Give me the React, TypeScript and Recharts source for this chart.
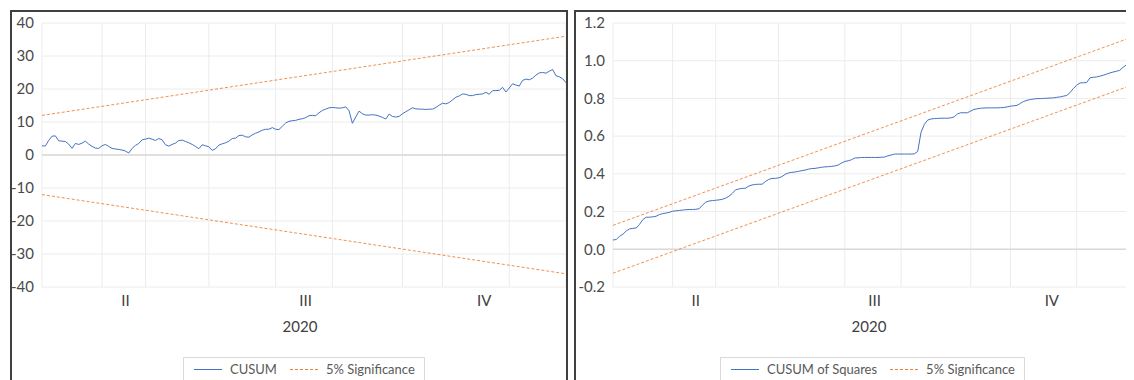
import React from 'react';
import { LineChart, Line, XAxis, YAxis, CartesianGrid, ReferenceLine } from 'recharts';

// CUSUM test statistic, one value per observation
const cusum = [
  2.8, 2.7, 4.4, 5.7, 5.8, 4.3, 4.2, 4.1, 3.3, 2.0,
  3.5, 3.2, 3.6, 4.2, 3.3, 2.6, 2.1, 2.0, 2.8, 3.2,
  2.6, 2.0, 1.8, 1.7, 1.5, 1.2, 0.6, 2.0, 2.9, 3.5,
  4.6, 4.8, 5.1, 4.8, 4.4, 5.0, 4.6, 3.1, 2.7, 3.2,
  3.6, 4.4, 4.5, 4.1, 3.7, 3.2, 2.6, 1.9, 3.1, 2.8,
  2.5, 1.4, 1.9, 3.0, 3.4, 3.7, 4.2, 5.0, 5.1, 5.9,
  6.0, 5.5, 5.4, 6.1, 6.6, 7.0, 7.5, 7.8, 7.8, 8.3,
  7.8, 7.7, 8.7, 9.7, 10.2, 10.4, 10.5, 10.8,
  11.0, 11.3, 11.9, 12.0, 11.9, 12.8, 13.5, 13.9, 14.3, 14.4,
  14.3, 14.2, 14.3, 14.6, 13.4, 9.6, 11.5, 13.3, 12.5, 12.1,
  12.1, 12.2, 12.1, 11.8, 11.4, 10.9, 12.4, 11.7, 11.5, 11.7,
  12.5, 13.1, 13.7, 14.3, 14.0, 13.9, 13.9, 13.8, 13.9, 13.9,
  14.4, 15.1, 15.7, 15.5, 15.9, 16.7, 17.5, 17.9, 18.5, 18.4,
  18.0, 18.0, 18.3, 18.4, 18.5, 19.0, 18.4, 19.5, 19.5, 19.6,
  20.5, 19.1, 20.3, 21.6, 21.2, 20.9, 22.6, 23.0, 22.8, 23.3,
  24.2, 24.9, 25.0, 24.8, 25.4, 25.9, 24.0, 23.7, 23.1, 21.9,
];

// CUSUM of squares, same observations
const cusumSq = [
  0.049, 0.052, 0.069, 0.080, 0.097, 0.108, 0.111, 0.113, 0.132, 0.157,
  0.170, 0.170, 0.172, 0.175, 0.184, 0.189, 0.192, 0.196, 0.202, 0.204,
  0.206, 0.208, 0.210, 0.211, 0.211, 0.212, 0.215, 0.234, 0.250, 0.256,
  0.258, 0.260, 0.262, 0.265, 0.271, 0.281, 0.296, 0.315, 0.320, 0.323,
  0.324, 0.335, 0.341, 0.344, 0.345, 0.345, 0.359, 0.370, 0.376, 0.376,
  0.379, 0.385, 0.398, 0.405, 0.408, 0.410, 0.413, 0.417, 0.420, 0.425,
  0.428, 0.429, 0.432, 0.435, 0.437, 0.438, 0.440, 0.442, 0.447, 0.457,
  0.466, 0.469, 0.475, 0.484, 0.485, 0.487, 0.487, 0.487, 0.487,
  0.487, 0.487, 0.488, 0.489, 0.496, 0.500, 0.505, 0.505, 0.505, 0.505,
  0.505, 0.505, 0.506, 0.519, 0.620, 0.662, 0.685, 0.691, 0.693, 0.694,
  0.695, 0.695, 0.695, 0.697, 0.702, 0.718, 0.724, 0.724, 0.724, 0.733,
  0.742, 0.745, 0.748, 0.749, 0.750, 0.750, 0.750, 0.750, 0.751, 0.752,
  0.755, 0.759, 0.761, 0.763, 0.774, 0.784, 0.790, 0.794, 0.797, 0.799,
  0.799, 0.800, 0.801, 0.802, 0.803, 0.806, 0.808, 0.812, 0.816, 0.831,
  0.853, 0.870, 0.882, 0.883, 0.884, 0.909, 0.912, 0.914, 0.918, 0.923,
  0.929, 0.935, 0.940, 0.944, 0.949, 0.965, 0.978, 0.981, 0.994,
];

// 5% significance bounds: value at first and last observation
const cusumUpper = [12, 36];
const cusumLower = [-12, -36];
const sqUpper = [0.127, 1.127];
const sqLower = [-0.127, 0.873];

// observation index where a month gridline falls
const monthLines = [0, 18, 31, 50, 70, 87, 108, 120, 140, 157];
const quarterNames = ['II', 'III', 'IV'];
const quarterBounds = [0, 50, 108, 157];
const yearLabel = '2020';

const cusumTicks = [-40, -30, -20, -10, 0, 10, 20, 30, 40];
const sqTicks = [-0.2, 0, 0.2, 0.4, 0.6, 0.8, 1.0, 1.2];

const BLUE = '#4472C4';
const ORANGE = '#ED7D31';
const FONT = 'Lato, "Open Sans", sans-serif';

const quarterTicks = quarterNames.map((_, i) => (quarterBounds[i] + quarterBounds[i + 1]) / 2);

function buildRows(values: number[], upper: number[], lower: number[]) {
  const last = values.length - 1;
  return values.map((v, i) => ({
    t: i,
    value: v,
    upper: i === 0 ? upper[0] : i === last ? upper[1] : null,
    lower: i === 0 ? lower[0] : i === last ? lower[1] : null,
  }));
}

const LegendBox = ({ label, left }: { label: string; left: number }) => (
  <div
    style={{
      position: 'absolute',
      left,
      top: 345,
      height: 30,
      border: '1px solid #d9d9d9',
      display: 'flex',
      alignItems: 'flex-start',
      padding: '3px 9px 0 10px',
      boxSizing: 'border-box',
      fontSize: 13,
      lineHeight: '16px',
      color: '#595959',
      fontFamily: FONT,
      whiteSpace: 'nowrap',
    }}
  >
    <svg width={28} height={16} style={{ marginRight: 8 }}>
      <line x1={0} y1={8.5} x2={28} y2={8.5} stroke={BLUE} strokeWidth={1} />
    </svg>
    <span>{label}</span>
    <svg width={30} height={16} style={{ marginLeft: 13, marginRight: 6 }}>
      <line x1={0} y1={8.5} x2={30} y2={8.5} stroke={ORANGE} strokeWidth={1} strokeDasharray="3 2" />
    </svg>
    <span>5% Significance</span>
  </div>
);

interface PanelProps {
  rows: ReturnType<typeof buildRows>;
  width: number;
  yWidth: number;
  domain: [number, number];
  ticks: number[];
  fmt: (v: number) => string;
}

const PanelChart = ({ rows, width, yWidth, domain, ticks, fmt }: PanelProps) => (
  <LineChart
    width={width}
    height={340}
    data={rows}
    margin={{ top: 11, right: 0, bottom: 0, left: 0 }}
    style={{ fontFamily: FONT }}
  >
    <CartesianGrid vertical={false} stroke="#ececec" />
    {monthLines.map((m) => (
      <ReferenceLine key={m} x={m} stroke="#ececec" />
    ))}
    <ReferenceLine y={0} stroke="#d9d9d9" strokeWidth={1.5} />
    <XAxis
      dataKey="t"
      type="number"
      domain={[0, rows.length - 1]}
      ticks={quarterTicks}
      tickFormatter={(v: number) => quarterNames[quarterTicks.indexOf(v)] ?? ''}
      axisLine={false}
      tickLine={false}
      height={65}
      tick={{ fill: '#404040', fontSize: 15 }}
      label={{
        content: (props: any) => {
          const vb = props.viewBox;
          return (
            <text x={vb.x + vb.width / 2 - 4} y={vb.y + 45} textAnchor="middle" fill="#404040" fontSize={15}>
              {yearLabel}
            </text>
          );
        },
      }}
    />
    <YAxis
      type="number"
      domain={domain}
      ticks={ticks}
      width={yWidth}
      axisLine={false}
      tickLine={false}
      interval={0}
      tickFormatter={fmt}
      tick={{ fill: '#4a4a4a', fontSize: 15 }}
    />
    <Line
      dataKey="upper"
      stroke={ORANGE}
      strokeOpacity={0.85}
      strokeWidth={1}
      strokeDasharray="3 2"
      dot={false}
      connectNulls
      isAnimationActive={false}
    />
    <Line
      dataKey="lower"
      stroke={ORANGE}
      strokeOpacity={0.85}
      strokeWidth={1}
      strokeDasharray="3 2"
      dot={false}
      connectNulls
      isAnimationActive={false}
    />
    <Line dataKey="value" stroke={BLUE} strokeWidth={1} dot={false} isAnimationActive={false} />
  </LineChart>
);

// panels are placed in page pixels minus the 8px body margin
const panelStyle = (left: number, width: number): React.CSSProperties => ({
  position: 'absolute',
  left,
  top: 2,
  width,
  height: 400,
  border: '2px solid #404040',
  boxSizing: 'border-box',
  background: '#fff',
});

export default function App() {
  const cusumRows = buildRows(cusum, cusumUpper, cusumLower);
  const sqRows = buildRows(cusumSq, sqUpper, sqLower);

  return (
    <div
      style={{
        position: 'relative',
        width: 1126,
        height: 372,
        overflow: 'hidden',
        background: '#fff',
      }}
    >
      <div style={panelStyle(2, 558)}>
        <PanelChart
          rows={cusumRows}
          width={554}
          yWidth={30}
          domain={[-40, 40]}
          ticks={cusumTicks}
          fmt={(v) => String(v)}
        />
        <LegendBox label="CUSUM" left={171} />
      </div>
      <div style={panelStyle(566, 600)}>
        <PanelChart
          rows={sqRows}
          width={557}
          yWidth={37}
          domain={[-0.2, 1.2]}
          ticks={sqTicks}
          fmt={(v) => v.toFixed(1)}
        />
        <LegendBox label="CUSUM of Squares" left={144} />
      </div>
    </div>
  );
}
